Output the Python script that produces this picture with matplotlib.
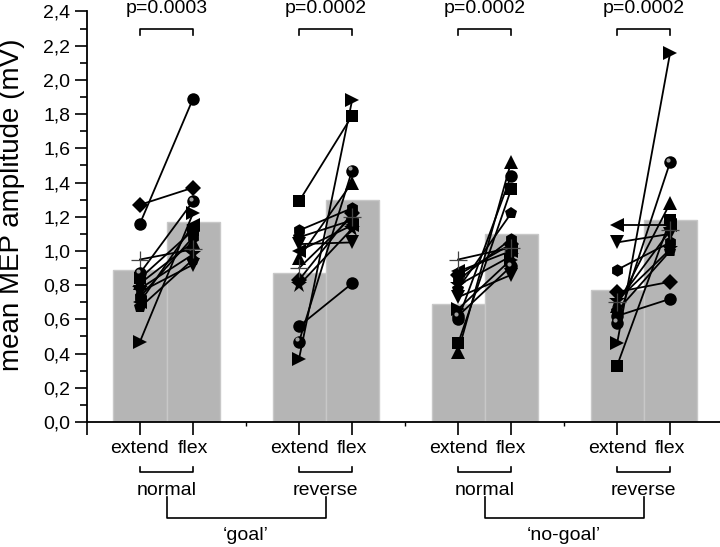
import matplotlib
matplotlib.use("Agg")
import matplotlib.pyplot as plt
from matplotlib.ticker import FixedLocator

plt.rcParams['font.family'] = ['Liberation Sans', 'DejaVu Sans']

# positions of the conditions on the x axis
positions = [1, 2, 4, 5, 7, 8, 10, 11]
tick_labels = ['extend', 'flex'] * 4
bar_means = [0.89, 1.17, 0.87, 1.30, 0.69, 1.10, 0.77, 1.18]

# one marker per subject
subjects = ['square', 'circle', 'tri_up', 'tri_down', 'diamond', 'tri_left',
            'tri_right', 'hexagon', 'star', 'pentagon', 'plus', 'sphere']
markers = ['s', 'o', '^', 'v', 'D', '<', '>', 'h', '*', 'p', '+', 'o']

goal_normal_ext = [0.84, 1.16, 0.81, 0.76, 1.27, 0.70, 0.47, 0.73, 0.78, 0.67, 0.95, 0.87]
goal_normal_flex = [1.12, 1.89, 1.05, 0.92, 1.37, 1.15, 1.22, 1.08, 0.98, 0.95, 1.01, 1.29]
goal_reverse_ext = [1.29, 0.56, 0.96, 1.04, 0.83, 1.00, 0.37, 1.12, 0.80, 1.08, 0.90, 0.47]
goal_reverse_flex = [1.79, 0.81, 1.40, 1.05, 1.22, 1.15, 1.88, 1.25, 1.13, 1.18, 1.20, 1.47]
nogoal_normal_ext = [0.46, 0.60, 0.41, 0.73, 0.86, 0.88, 0.66, 0.83, 0.80, 0.78, 0.95, 0.62]
nogoal_normal_flex = [1.36, 1.44, 1.52, 0.86, 1.04, 1.00, 0.95, 1.07, 0.97, 1.22, 1.02, 0.91]
nogoal_reverse_ext = [0.33, 0.62, 0.68, 1.05, 0.76, 1.15, 0.46, 0.89, 0.71, 0.65, 0.70, 0.58]
nogoal_reverse_flex = [1.18, 0.72, 1.28, 1.10, 0.82, 1.15, 2.16, 1.05, 1.01, 1.00, 1.12, 1.52]

pairs = [(goal_normal_ext, goal_normal_flex), (goal_reverse_ext, goal_reverse_flex),
         (nogoal_normal_ext, nogoal_normal_flex), (nogoal_reverse_ext, nogoal_reverse_flex)]
p_values = ['p=0.0003', 'p=0.0002', 'p=0.0002', 'p=0.0002']
handedness = ['normal', 'reverse', 'normal', 'reverse']
tasks = ['\u2018goal\u2019', '\u2018no-goal\u2019']

fig = plt.figure(figsize=(7.2, 5.47), dpi=100)
ax = fig.add_axes([0.1208, 0.2285, 0.8792, 0.7505])

ax.bar(positions, bar_means, width=1.0, color='#b5b5b5', edgecolor='#c8c8c8',
       linewidth=1, zorder=1)

for g, (ext, flex) in enumerate(pairs):
    x0, x1 = positions[2 * g], positions[2 * g + 1]
    for i in range(len(subjects)):
        ax.plot([x0, x1], [ext[i], flex[i]], color='black', lw=1.3, zorder=2)
    for i, m in enumerate(markers):
        if m == '+':
            ax.plot([x0, x1], [ext[i], flex[i]], ls='none', marker='+', ms=13,
                    mew=0.9, color='#444444', zorder=3)
            continue
        ms = 9
        if m == '*':
            ms = 12
        elif m == 'D':
            ms = 8
        elif m in ('^', 'v', '<', '>'):
            ms = 10
        ax.plot([x0, x1], [ext[i], flex[i]], ls='none', marker=m, ms=ms,
                color='black', mew=0, zorder=3)
        if subjects[i] == 'sphere':
            ax.plot([x0 - 0.04, x1 - 0.04], [ext[i] + 0.014, flex[i] + 0.014],
                    ls='none', marker='o', ms=3, color='#a0a0a0', mew=0, zorder=4)

    # significance bracket on top
    xm = (x0 + x1) / 2
    ax.plot([x0, x0, x1, x1], [2.26, 2.30, 2.30, 2.26], color='black', lw=1.2,
            clip_on=False)
    ax.text(xm, 2.415, p_values[g], ha='center', va='center', fontsize=14,
            clip_on=False)

    # handedness bracket below
    ax.plot([x0, x0, x1, x1], [-0.265, -0.29, -0.29, -0.265], color='black',
            lw=1.2, clip_on=False)
    ax.text(xm, -0.40, handedness[g], ha='center', va='center', fontsize=14,
            clip_on=False)

for t, (a, b) in enumerate([(1.5, 4.5), (7.5, 10.5)]):
    ax.plot([a, a, b, b], [-0.44, -0.56, -0.56, -0.44], color='black', lw=1.2,
            clip_on=False)
    ax.text((a + b) / 2, -0.665, tasks[t], ha='center', va='center', fontsize=14,
            clip_on=False)

ax.set_xlim(0, 11.94)
ax.set_ylim(0, 2.4)
ax.set_xticks([0] + positions)
ax.set_xticklabels([''] + tick_labels, fontsize=14)
ax.xaxis.set_minor_locator(FixedLocator([3, 6, 9]))
ax.set_yticks([i * 0.2 for i in range(13)])
ax.set_yticklabels([('%.1f' % (i * 0.2)).replace('.', ',') for i in range(13)],
                   fontsize=14)
ax.yaxis.set_minor_locator(FixedLocator([i * 0.2 + 0.1 for i in range(12)]))
ax.tick_params(axis='x', which='major', length=9, width=1.2, pad=4)
ax.tick_params(axis='x', which='minor', length=3, width=1.0)
ax.tick_params(axis='y', which='major', length=9, width=1.2, pad=3)
ax.tick_params(axis='y', which='minor', length=5, width=1.2)
ax.set_ylabel('mean MEP amplitude (mV)', fontsize=20)
ax.yaxis.set_label_coords(-0.098, 0.53)

for s in ['top', 'right']:
    ax.spines[s].set_visible(False)
for s in ['left', 'bottom']:
    ax.spines[s].set_linewidth(1.3)

fig.savefig('out.png', dpi=100)
